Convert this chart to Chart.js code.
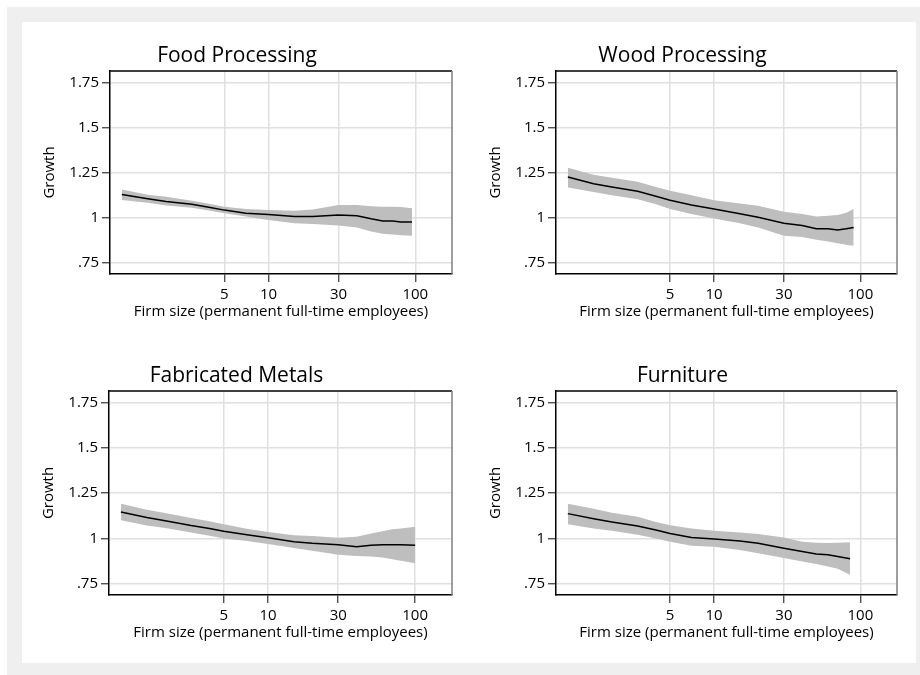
<!DOCTYPE html>
<html><head><meta charset="utf-8">
<script src="https://cdn.jsdelivr.net/npm/chart.js@4.4.1/dist/chart.umd.min.js"></script>
<style>
html,body{margin:0;padding:0;background:#fff;width:920px;height:675px;overflow:hidden;}
#frame{position:absolute;left:7px;top:7px;width:913px;height:668px;background:#efefef;}
#inner{position:absolute;left:22px;top:22px;width:894px;height:641px;background:#fff;}
canvas{position:absolute;}
</style></head><body>
<div id="frame"></div><div id="inner"></div>
<canvas id="c0" width="445" height="322" style="left:22px;top:28px"></canvas>
<canvas id="c1" width="445" height="322" style="left:468px;top:28px"></canvas>
<canvas id="c2" width="445" height="322" style="left:21px;top:348px"></canvas>
<canvas id="c3" width="445" height="322" style="left:468px;top:348px"></canvas>
<script>
const panelTitles = ["Food Processing", "Wood Processing", "Fabricated Metals", "Furniture"];
const xAxisTitle = "Firm size (permanent full-time employees)";
const yAxisTitle = "Growth";
const xTickValues = [5, 10, 30, 100];
const xTickLabels = ["5", "10", "30", "100"];
const yTickValues = [0.75, 1, 1.25, 1.5, 1.75];
const yTickLabels = [".75", "1", "1.25", "1.5", "1.75"];

const foodSize   = [1, 1.5, 2, 3, 4, 5, 7, 10, 15, 20, 30, 40, 50, 60, 70, 80, 95];
const foodGrowth = [1.129, 1.105, 1.090, 1.074, 1.057, 1.042, 1.024, 1.017, 1.006, 1.006, 1.015, 1.011, 0.994, 0.982, 0.982, 0.976, 0.976];
const foodUpper  = [1.157, 1.127, 1.116, 1.094, 1.076, 1.061, 1.048, 1.042, 1.039, 1.046, 1.070, 1.070, 1.064, 1.061, 1.061, 1.059, 1.053];
const foodLower  = [1.098, 1.083, 1.068, 1.055, 1.039, 1.024, 1.006, 0.987, 0.969, 0.965, 0.956, 0.945, 0.923, 0.910, 0.906, 0.902, 0.899];

const woodSize   = [1, 1.5, 2, 3, 4, 5, 7, 10, 15, 20, 30, 40, 50, 60, 70, 80, 90];
const woodGrowth = [1.226, 1.189, 1.171, 1.147, 1.119, 1.097, 1.070, 1.048, 1.022, 1.002, 0.969, 0.956, 0.938, 0.938, 0.932, 0.938, 0.945];
const woodUpper  = [1.278, 1.239, 1.222, 1.199, 1.171, 1.149, 1.125, 1.097, 1.079, 1.066, 1.033, 1.020, 1.006, 1.011, 1.015, 1.028, 1.048];
const woodLower  = [1.167, 1.143, 1.125, 1.103, 1.075, 1.048, 1.020, 0.996, 0.969, 0.945, 0.899, 0.892, 0.877, 0.868, 0.858, 0.849, 0.844];

const metalSize   = [1, 1.5, 2, 3, 4, 5, 7, 10, 15, 20, 30, 40, 50, 60, 70, 80, 100];
const metalGrowth = [1.146, 1.115, 1.097, 1.071, 1.055, 1.040, 1.022, 1.004, 0.982, 0.973, 0.965, 0.954, 0.962, 0.965, 0.965, 0.965, 0.962];
const metalUpper  = [1.192, 1.159, 1.141, 1.113, 1.095, 1.078, 1.055, 1.036, 1.018, 1.013, 1.004, 1.009, 1.027, 1.040, 1.051, 1.055, 1.064];
const metalLower  = [1.100, 1.071, 1.057, 1.033, 1.015, 1.000, 0.987, 0.969, 0.947, 0.932, 0.909, 0.903, 0.900, 0.894, 0.885, 0.876, 0.863];

const furnSize   = [1, 1.5, 2, 3, 4, 5, 7, 10, 15, 20, 30, 40, 50, 60, 70, 85];
const furnGrowth = [1.137, 1.109, 1.091, 1.068, 1.046, 1.027, 1.005, 0.996, 0.985, 0.973, 0.945, 0.927, 0.914, 0.909, 0.900, 0.887];
const furnUpper  = [1.192, 1.164, 1.142, 1.119, 1.091, 1.073, 1.055, 1.042, 1.033, 1.024, 1.005, 0.982, 0.976, 0.974, 0.976, 0.978];
const furnLower  = [1.078, 1.055, 1.042, 1.020, 1.000, 0.982, 0.960, 0.954, 0.936, 0.918, 0.891, 0.872, 0.859, 0.845, 0.832, 0.799];

const FONT = "'Open Sans', 'Noto Sans', sans-serif";

const framePlugin = {
  id: 'frame',
  afterDraw(chart) {
    const {ctx, chartArea: a} = chart;
    ctx.save();
    ctx.lineWidth = 1.5;
    ctx.strokeStyle = '#000';
    ctx.beginPath(); ctx.moveTo(a.left - 0.75, a.top); ctx.lineTo(a.right, a.top); ctx.stroke();
    ctx.strokeStyle = '#7f7f7f';
    ctx.beginPath(); ctx.moveTo(a.right, a.top); ctx.lineTo(a.right, a.bottom); ctx.stroke();
    ctx.restore();
  }
};

function makeChart(id, title, size, growth, lower, upper, padRight, padBottom) {
  const pts = arr => size.map((s, i) => ({x: s, y: arr[i]}));
  new Chart(document.getElementById(id), {
    type: 'line',
    data: {datasets: [
      {data: pts(growth), fill: false, borderColor: '#000', borderWidth: 1.5, pointRadius: 0},
      {data: pts(upper), fill: '+1', backgroundColor: '#bebebe', borderWidth: 0, pointRadius: 0, borderColor: 'rgba(0,0,0,0)'},
      {data: pts(lower), fill: false, borderWidth: 0, pointRadius: 0, borderColor: 'rgba(0,0,0,0)'}
    ]},
    options: {
      responsive: false, animation: false, events: [],
      layout: {padding: {left: 0, top: 0, right: padRight, bottom: padBottom}},
      plugins: {
        legend: {display: false}, tooltip: {enabled: false},
        title: {display: true, text: title, color: '#000',
          font: {family: FONT, size: 21, weight: 'normal'}, padding: {top: 15, bottom: 2.8}}
      },
      scales: {
        x: {
          type: 'logarithmic', min: 0.83, max: 178, bounds: 'data',
          afterBuildTicks: s => { s.ticks = xTickValues.map(v => ({value: v})); },
          afterFit: s => { s.height = 50; },
          ticks: {autoSkip: false, maxRotation: 0, color: '#000', padding: 4.2,
            font: {family: FONT, size: 15},
            callback: v => xTickLabels[xTickValues.indexOf(v)]},
          grid: {color: '#e0e0e0', lineWidth: 1.5, tickColor: '#333', tickLength: 8, tickWidth: 1.2},
          border: {color: '#000', width: 1.5},
          title: {display: true, text: xAxisTitle, color: '#000',
            font: {family: FONT, size: 15}, padding: {top: 0, bottom: 3.5}}
        },
        y: {
          min: 0.687, max: 1.815,
          afterBuildTicks: s => { s.ticks = yTickValues.map(v => ({value: v})); },
          afterFit: s => { s.width = 88; },
          ticks: {autoSkip: false, color: '#000', padding: 3,
            font: {family: FONT, size: 15},
            callback: v => yTickLabels[yTickValues.indexOf(v)]},
          grid: {color: '#e0e0e0', lineWidth: 1.5, tickColor: '#333', tickLength: 8, tickWidth: 1.2},
          border: {color: '#000', width: 1.5},
          title: {display: true, text: yAxisTitle, color: '#000',
            font: {family: FONT, size: 15}, padding: {top: 19.2, bottom: 0}}
        }
      }
    },
    plugins: [framePlugin]
  });
}

makeChart('c0', panelTitles[0], foodSize, foodGrowth, foodLower, foodUpper, 15, 26);
makeChart('c1', panelTitles[1], woodSize, woodGrowth, woodLower, woodUpper, 16, 26);
makeChart('c2', panelTitles[2], metalSize, metalGrowth, metalLower, metalUpper, 14, 25);
makeChart('c3', panelTitles[3], furnSize, furnGrowth, furnLower, furnUpper, 16, 25);
</script>
</body></html>
